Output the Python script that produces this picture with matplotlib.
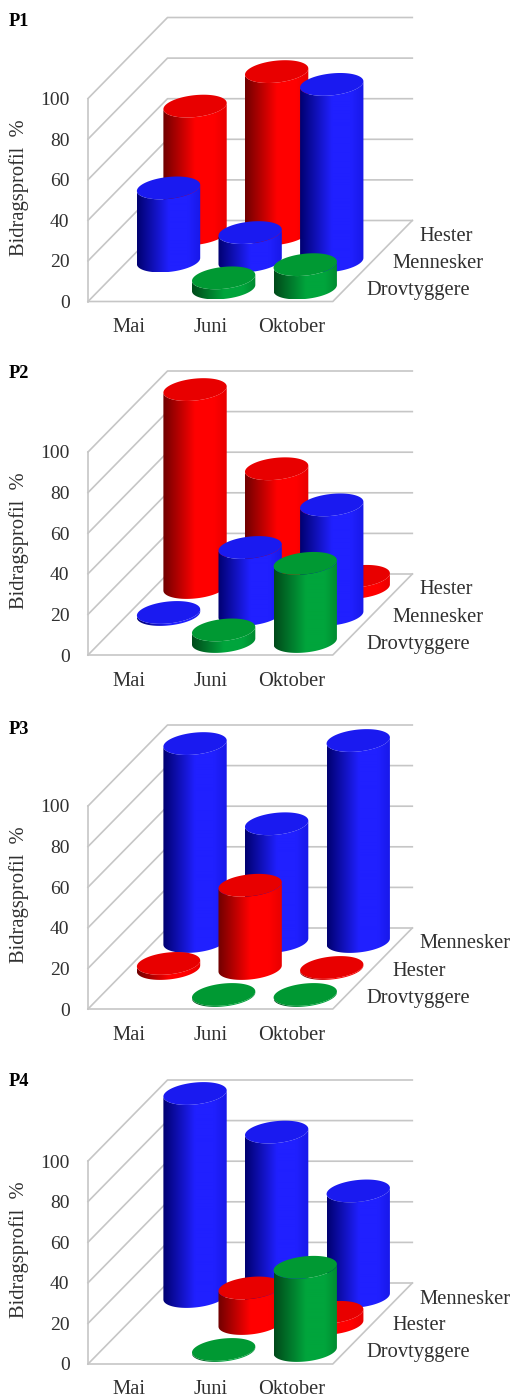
import numpy as np
import matplotlib
matplotlib.use('Agg')
import matplotlib.pyplot as plt
from matplotlib.colors import LinearSegmentedColormap
from matplotlib.patches import Polygon

plt.rcParams['font.family'] = ['Liberation Serif', 'DejaVu Serif']

# data, nan = no cylinder
months = ['Mai', 'Juni', 'Oktober']
panel_names = ['P1', 'P2', 'P3', 'P4']
ticks = [0, 20, 40, 60, 80, 100]

# rows go front to back
rows_p1 = ['Drovtyggere', 'Mennesker', 'Hester']
rows_p2 = ['Drovtyggere', 'Mennesker', 'Hester']
rows_p3 = ['Drovtyggere', 'Hester', 'Mennesker']
rows_p4 = ['Drovtyggere', 'Hester', 'Mennesker']

drov_p1 = [np.nan, 5, 11.5]
menn_p1 = [36, 14, 87]
hest_p1 = [63, 80, np.nan]

drov_p2 = [np.nan, 5.7, 38.5]
menn_p2 = [1, 33, 54]
hest_p2 = [97.5, 58.5, 5.5]

drov_p3 = [np.nan, 0.5, 0.5]
hest_p3 = [2.5, 41, 0.5]
menn_p3 = [97.5, 58, 99]

drov_p4 = [np.nan, 0.5, 41]
hest_p4 = [np.nan, 17.5, 5.5]
menn_p4 = [100, 81, 52]

panels = [
    (rows_p1, [drov_p1, menn_p1, hest_p1]),
    (rows_p2, [drov_p2, menn_p2, hest_p2]),
    (rows_p3, [drov_p3, hest_p3, menn_p3]),
    (rows_p4, [drov_p4, hest_p4, menn_p4]),
]

# (dark edge, bright, right edge, top face)
colors = {
    'Hester': ('#700000', '#ff0000', '#e80000', '#e80000'),
    'Mennesker': ('#000070', '#2020ff', '#1818e8', '#1a1af0'),
    'Drovtyggere': ('#004a1a', '#00a53c', '#008a30', '#009933'),
}

# picture layout in pixels
W, H = 513, 1398
floor_px = [301.5, 655, 1009, 1364]
label_px = [21, 373, 729, 1082]
left_px = 88
px_cat = 81.6
px_pct = 2.03
kx = 26.5 / px_cat   # shift per depth row, in months
ky = 27 / px_pct     # shift per depth row, in percent
rx = 30.5 / px_cat   # cylinder radius along the months
rsx = 8.5 / px_cat   # sideways lean of the ellipse
rsy = 11.4 / px_pct  # ellipse half height
grid = '#c6c6c6'
txt = '#303030'

fig = plt.figure(figsize=(W / 100, H / 100), dpi=100)


def proj(c, d, v):
    return c + d * kx, v + d * ky


def cylinder(ax, c, d, v, series, z):
    dark, bright, right, top = colors[series]
    cx, cy = proj(c, d, 0)
    t0 = np.arctan2(rsx, rx)
    t = np.linspace(t0 + np.pi, t0 + 2 * np.pi, 60)
    ex = rx * np.cos(t) + rsx * np.sin(t)
    ey = rsy * np.sin(t)
    # outline of the side, top front edge then bottom front edge backwards
    xs = np.r_[cx + ex, (cx + ex)[::-1]]
    ys = np.r_[cy + v + ey, (cy + ey)[::-1]]
    side = Polygon(np.c_[xs, ys], closed=True, transform=ax.transData)
    cmap = LinearSegmentedColormap.from_list(
        'c', [(0, dark), (0.5, bright), (0.8, bright), (1, right)])
    grad = np.linspace(0, 1, 128).reshape(1, -1)
    im = ax.imshow(grad, cmap=cmap, aspect='auto', zorder=z, interpolation='bilinear',
                   extent=[xs.min(), xs.max(), cy + ey.min(), cy + v + ey.max()])
    im.set_clip_path(side)
    a = np.linspace(0, 2 * np.pi, 120)
    ox = cx + rx * np.cos(a) + rsx * np.sin(a)
    oy = cy + v + rsy * np.sin(a)
    ax.add_patch(Polygon(np.c_[ox, oy], closed=True, fc=top, ec='none', zorder=z + 0.5))


for p, (rows, values) in enumerate(panels):
    top_px = floor_px[p] - 310
    bot_px = floor_px[p] + 34
    ax = fig.add_axes([0, 1 - bot_px / H, 1, (bot_px - top_px) / H])
    ax.axis('off')

    # walls and floor
    for v in ticks:
        x0, y0 = proj(0, 0, v)
        x1, y1 = proj(0, 3, v)
        x2, y2 = proj(3, 3, v)
        ax.plot([x0, x1, x2], [y0, y1, y2], color=grid, lw=1.2, zorder=1)
        ax.text(x0 - 18.5 / px_cat, y0 - 2 / px_pct, str(v), ha='right', va='center',
                fontsize=14, color=txt)
    ax.plot([0, 0], [0, 100], color=grid, lw=1.2, zorder=1)
    ax.plot([0, 3, 3 + 3 * kx], [0, 0, 3 * ky], color=grid, lw=1.2, zorder=1)

    z = 10
    for r in [2, 1, 0]:
        for m in range(len(months)):
            if not np.isnan(values[r][m]):
                cylinder(ax, m + 0.5, r + 0.5, values[r][m], rows[r], z)
                z += 1

    for m, name in enumerate(months):
        ax.text(m + 0.5, -26 / px_pct, name, ha='center', va='center',
                fontsize=14.8, color=txt)
    for r, name in enumerate(rows):
        x, y = proj(3, r + 0.5, 0)
        ax.text(x + 20 / px_cat, y - 2.5 / px_pct, name, ha='left', va='center',
                fontsize=14.8, color=txt)
    ax.text(-68.5 / px_cat, 114 / px_pct, 'Bidragsprofil  %', rotation=90,
            ha='center', va='center', fontsize=14.8, color=txt)
    ax.text(-79 / px_cat, (floor_px[p] - label_px[p]) / px_pct, panel_names[p],
            ha='left', va='center', fontsize=13.2, fontweight='bold', color='black')

    ax.set_xlim(-left_px / px_cat, (W - left_px) / px_cat)
    ax.set_ylim((floor_px[p] - bot_px) / px_pct, (floor_px[p] - top_px) / px_pct)

fig.savefig('out.png', dpi=100)
